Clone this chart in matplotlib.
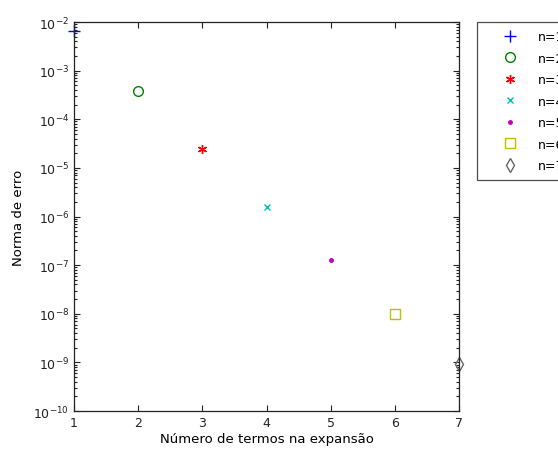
import matplotlib
matplotlib.use("Agg")
import matplotlib.pyplot as plt
from matplotlib.ticker import LogLocator, FixedLocator

# Dados
termos = [1, 2, 3, 4, 5, 6, 7]
erros = [6.5e-3, 3.8e-4, 2.45e-5, 1.6e-6, 1.26e-7, 1.0e-8, 9.2e-10]
rotulos = ["n=1", "n=2", "n=3", "n=4", "n=5", "n=6", "n=7"]

estilos = [
    dict(marker="+", color=(0, 0, 1), ms=8, mew=1.0),
    dict(marker="o", mfc="none", mec=(0, 0.5, 0), ms=7, mew=1.0),
    dict(marker=(6, 2, 0), color=(1, 0, 0), ms=6.5, mew=1.0),
    dict(marker="x", color=(0, 0.75, 0.75), ms=4, mew=1.0),
    dict(marker=".", color=(0.75, 0, 0.75), ms=5),
    dict(marker="s", mfc="none", mec=(0.75, 0.75, 0), ms=7.5, mew=1.0),
    dict(marker="d", mfc="none", mec=(0.4, 0.4, 0.4), ms=7.5, mew=1.0),
]

plt.rcParams["font.family"] = "DejaVu Sans"
plt.rcParams["mathtext.default"] = "regular"

fig = plt.figure(figsize=(5.58, 4.56), dpi=100)
ax = fig.add_axes([74 / 558, 1 - 412 / 456, (459 - 74) / 558, (412 - 23) / 456])

handles = []
for x, y, lab, st in zip(termos, erros, rotulos, estilos):
    h, = ax.plot([x], [y], linestyle="none", label=lab, clip_on=False, **st)
    handles.append(h)

ax.set_yscale("log")
ax.set_xlim(1, 7)
ax.set_ylim(1e-10, 1e-2)
ax.xaxis.set_major_locator(FixedLocator(termos))
ax.yaxis.set_major_locator(LogLocator(base=10, numticks=20))
ax.yaxis.set_minor_locator(LogLocator(base=10, subs=range(2, 10), numticks=20))
ax.tick_params(which="both", direction="in", top=True, right=True,
               labelsize=9, colors="#222222", width=0.8)
ax.tick_params(which="major", length=4)
ax.tick_params(which="minor", length=2)
for s in ax.spines.values():
    s.set_color("#222222")
    s.set_linewidth(0.9)

ax.set_xlabel("Número de termos na expansão", fontsize=9.5, labelpad=2)
ax.set_ylabel("Norma de erro", fontsize=9.5, labelpad=6)

# legenda parcialmente fora da figura, como no original
leg = fig.legend(handles=handles, loc="upper left",
                 bbox_to_anchor=(477 / 558, 1 - 23 / 456),
                 fontsize=9, frameon=True, fancybox=False,
                 edgecolor="#222222", borderpad=0.65, labelspacing=0.68,
                 handlelength=3.9, handletextpad=0.3, borderaxespad=0)
leg.get_frame().set_linewidth(0.9)

fig.savefig("out.png", dpi=100)
